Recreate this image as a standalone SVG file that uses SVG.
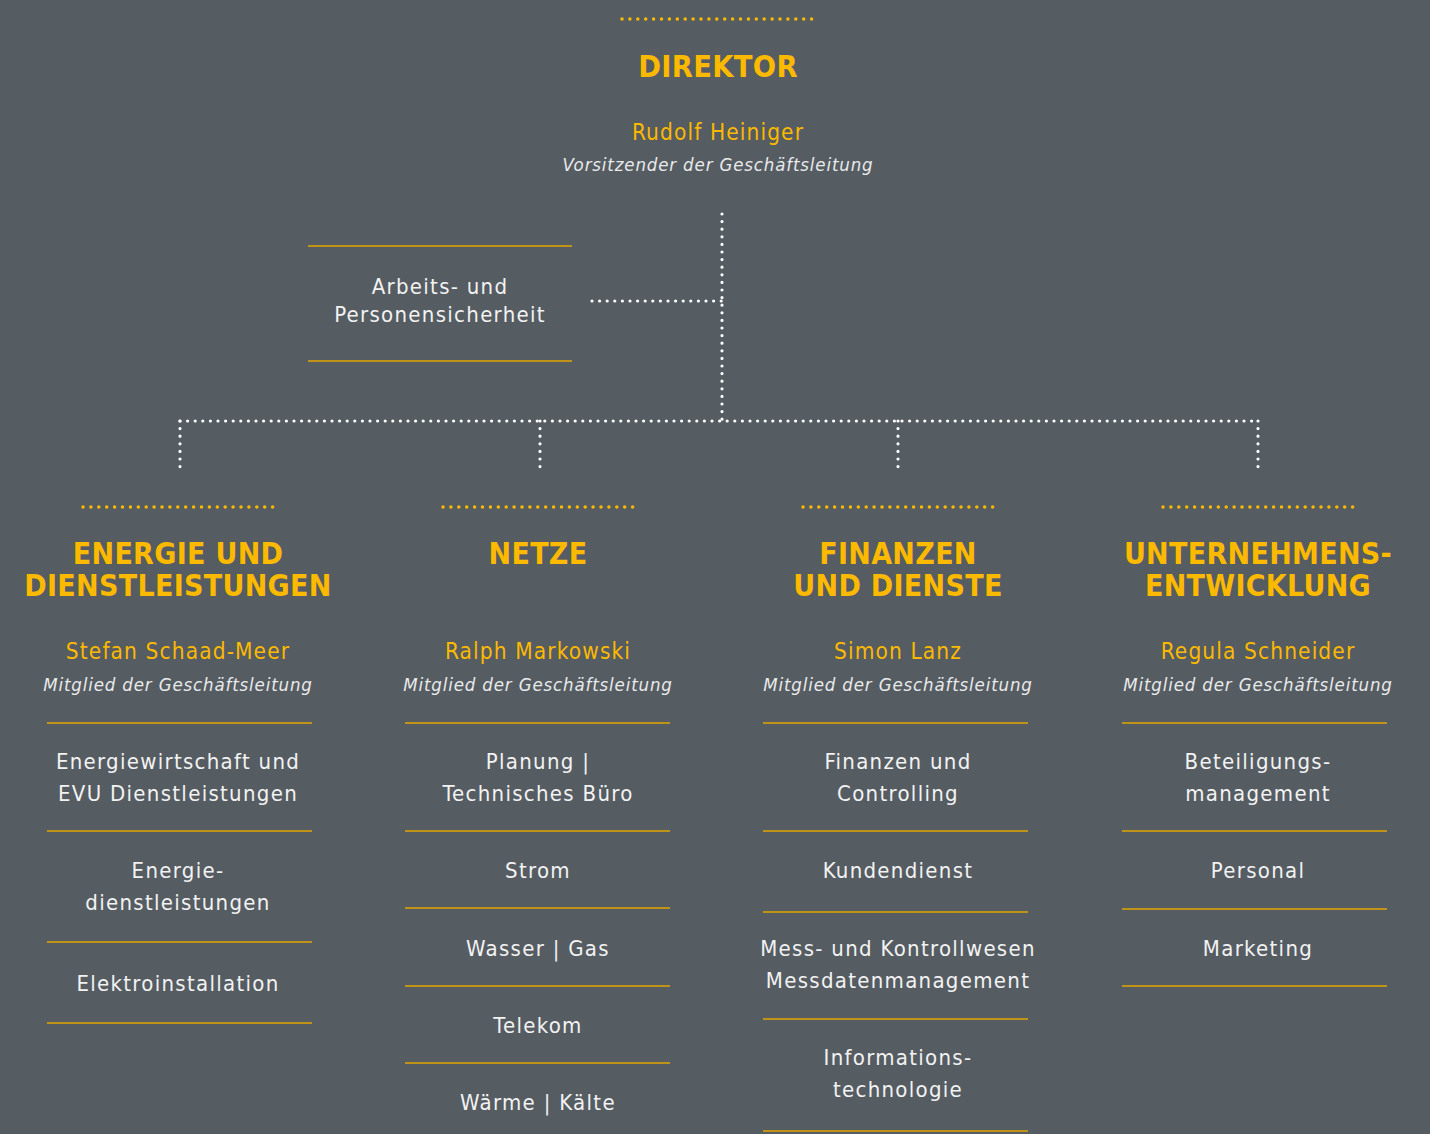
<svg xmlns="http://www.w3.org/2000/svg" width="1430" height="1134" viewBox="0 0 1430 1134">
<style>
.bg{fill:#555c62}
.ydot{stroke:#fbb900;stroke-width:3.5;stroke-linecap:round;stroke-dasharray:0 7.9;fill:none}
.wdot{stroke:#ffffff;stroke-width:3.2;stroke-linecap:round;stroke-dasharray:0 7.6;fill:none}
.rule{stroke:#e3a600;stroke-width:1.6}
.head{font-family:"DejaVu Sans Condensed","DejaVu Sans",sans-serif;font-weight:bold;font-size:30px;fill:#fbb900;text-anchor:middle;letter-spacing:0.3px}
.name{font-family:"DejaVu Sans Condensed","DejaVu Sans",sans-serif;font-size:22.5px;fill:#fbb900;text-anchor:middle;letter-spacing:1.1px}
.role{font-family:"DejaVu Sans Condensed","DejaVu Sans",sans-serif;font-style:italic;font-size:18.5px;fill:#e9eaeb;text-anchor:middle;letter-spacing:0.85px}
.unit{font-family:"DejaVu Sans Condensed","DejaVu Sans",sans-serif;font-size:22px;fill:#f2f2f2;text-anchor:middle;letter-spacing:1.3px}
</style>
<rect class="bg" x="0" y="0" width="1430" height="1134"/>

<g id="connectors">
<line class="wdot" x1="722" y1="214" x2="722" y2="421"/>
<line class="wdot" x1="592" y1="301" x2="722" y2="301"/>
<line class="wdot" x1="180" y1="421" x2="1258" y2="421"/>
<line class="wdot" x1="180" y1="421" x2="180" y2="469"/>
<line class="wdot" x1="540" y1="421" x2="540" y2="469"/>
<line class="wdot" x1="898" y1="421" x2="898" y2="469"/>
<line class="wdot" x1="1258" y1="421" x2="1258" y2="469"/>
</g>

<g id="direktor">
<line class="ydot" x1="622" y1="19" x2="812.5" y2="19"/>
<text class="head" x="718" y="77" style="font-size:30.5px">DIREKTOR</text>
<text class="name" x="718" y="140">Rudolf Heiniger</text>
<text class="role" x="718" y="171">Vorsitzender der Geschäftsleitung</text>
</g>

<g id="arbeitssicherheit">
<line class="rule" x1="308" y1="246" x2="572" y2="246"/>
<text class="unit" x="440" y="294">Arbeits- und</text>
<text class="unit" x="440" y="322">Personensicherheit</text>
<line class="rule" x1="308" y1="361" x2="572" y2="361"/>
</g>

<g id="energie">
<line class="ydot" x1="83" y1="507" x2="273.5" y2="507"/>
<text class="head" x="178" y="564">ENERGIE UND</text>
<text class="head" x="178" y="596">DIENSTLEISTUNGEN</text>
<text class="name" x="178" y="659">Stefan Schaad-Meer</text>
<text class="role" x="178" y="691">Mitglied der Geschäftsleitung</text>
<line class="rule" x1="47" y1="723" x2="312" y2="723"/>
<text class="unit" x="178" y="769">Energiewirtschaft und</text>
<text class="unit" x="178" y="801">EVU Dienstleistungen</text>
<line class="rule" x1="47" y1="831" x2="312" y2="831"/>
<text class="unit" x="178" y="878">Energie-</text>
<text class="unit" x="178" y="910">dienstleistungen</text>
<line class="rule" x1="47" y1="942" x2="312" y2="942"/>
<text class="unit" x="178" y="991">Elektroinstallation</text>
<line class="rule" x1="47" y1="1023" x2="312" y2="1023"/>
</g>

<g id="netze">
<line class="ydot" x1="443" y1="507" x2="633.5" y2="507"/>
<text class="head" x="538" y="564">NETZE</text>
<text class="name" x="538" y="659">Ralph Markowski</text>
<text class="role" x="538" y="691">Mitglied der Geschäftsleitung</text>
<line class="rule" x1="405" y1="723" x2="670" y2="723"/>
<text class="unit" x="538" y="769">Planung |</text>
<text class="unit" x="538" y="801">Technisches Büro</text>
<line class="rule" x1="405" y1="831" x2="670" y2="831"/>
<text class="unit" x="538" y="878">Strom</text>
<line class="rule" x1="405" y1="908" x2="670" y2="908"/>
<text class="unit" x="538" y="956">Wasser | Gas</text>
<line class="rule" x1="405" y1="986" x2="670" y2="986"/>
<text class="unit" x="538" y="1033">Telekom</text>
<line class="rule" x1="405" y1="1063" x2="670" y2="1063"/>
<text class="unit" x="538" y="1110">Wärme | Kälte</text>
</g>

<g id="finanzen">
<line class="ydot" x1="803" y1="507" x2="993.5" y2="507"/>
<text class="head" x="898" y="564">FINANZEN</text>
<text class="head" x="898" y="596">UND DIENSTE</text>
<text class="name" x="898" y="659">Simon Lanz</text>
<text class="role" x="898" y="691">Mitglied der Geschäftsleitung</text>
<line class="rule" x1="763" y1="723" x2="1028" y2="723"/>
<text class="unit" x="898" y="769">Finanzen und</text>
<text class="unit" x="898" y="801">Controlling</text>
<line class="rule" x1="763" y1="831" x2="1028" y2="831"/>
<text class="unit" x="898" y="878">Kundendienst</text>
<line class="rule" x1="763" y1="912" x2="1028" y2="912"/>
<text class="unit" x="898" y="956">Mess- und Kontrollwesen</text>
<text class="unit" x="898" y="988">Messdatenmanagement</text>
<line class="rule" x1="763" y1="1019" x2="1028" y2="1019"/>
<text class="unit" x="898" y="1065">Informations-</text>
<text class="unit" x="898" y="1097">technologie</text>
<line class="rule" x1="763" y1="1131" x2="1028" y2="1131"/>
</g>

<g id="unternehmensentwicklung">
<line class="ydot" x1="1163" y1="507" x2="1353.5" y2="507"/>
<text class="head" x="1258" y="564">UNTERNEHMENS-</text>
<text class="head" x="1258" y="596">ENTWICKLUNG</text>
<text class="name" x="1258" y="659">Regula Schneider</text>
<text class="role" x="1258" y="691">Mitglied der Geschäftsleitung</text>
<line class="rule" x1="1122" y1="723" x2="1387" y2="723"/>
<text class="unit" x="1258" y="769">Beteiligungs-</text>
<text class="unit" x="1258" y="801">management</text>
<line class="rule" x1="1122" y1="831" x2="1387" y2="831"/>
<text class="unit" x="1258" y="878">Personal</text>
<line class="rule" x1="1122" y1="909" x2="1387" y2="909"/>
<text class="unit" x="1258" y="956">Marketing</text>
<line class="rule" x1="1122" y1="986" x2="1387" y2="986"/>
</g>
</svg>
